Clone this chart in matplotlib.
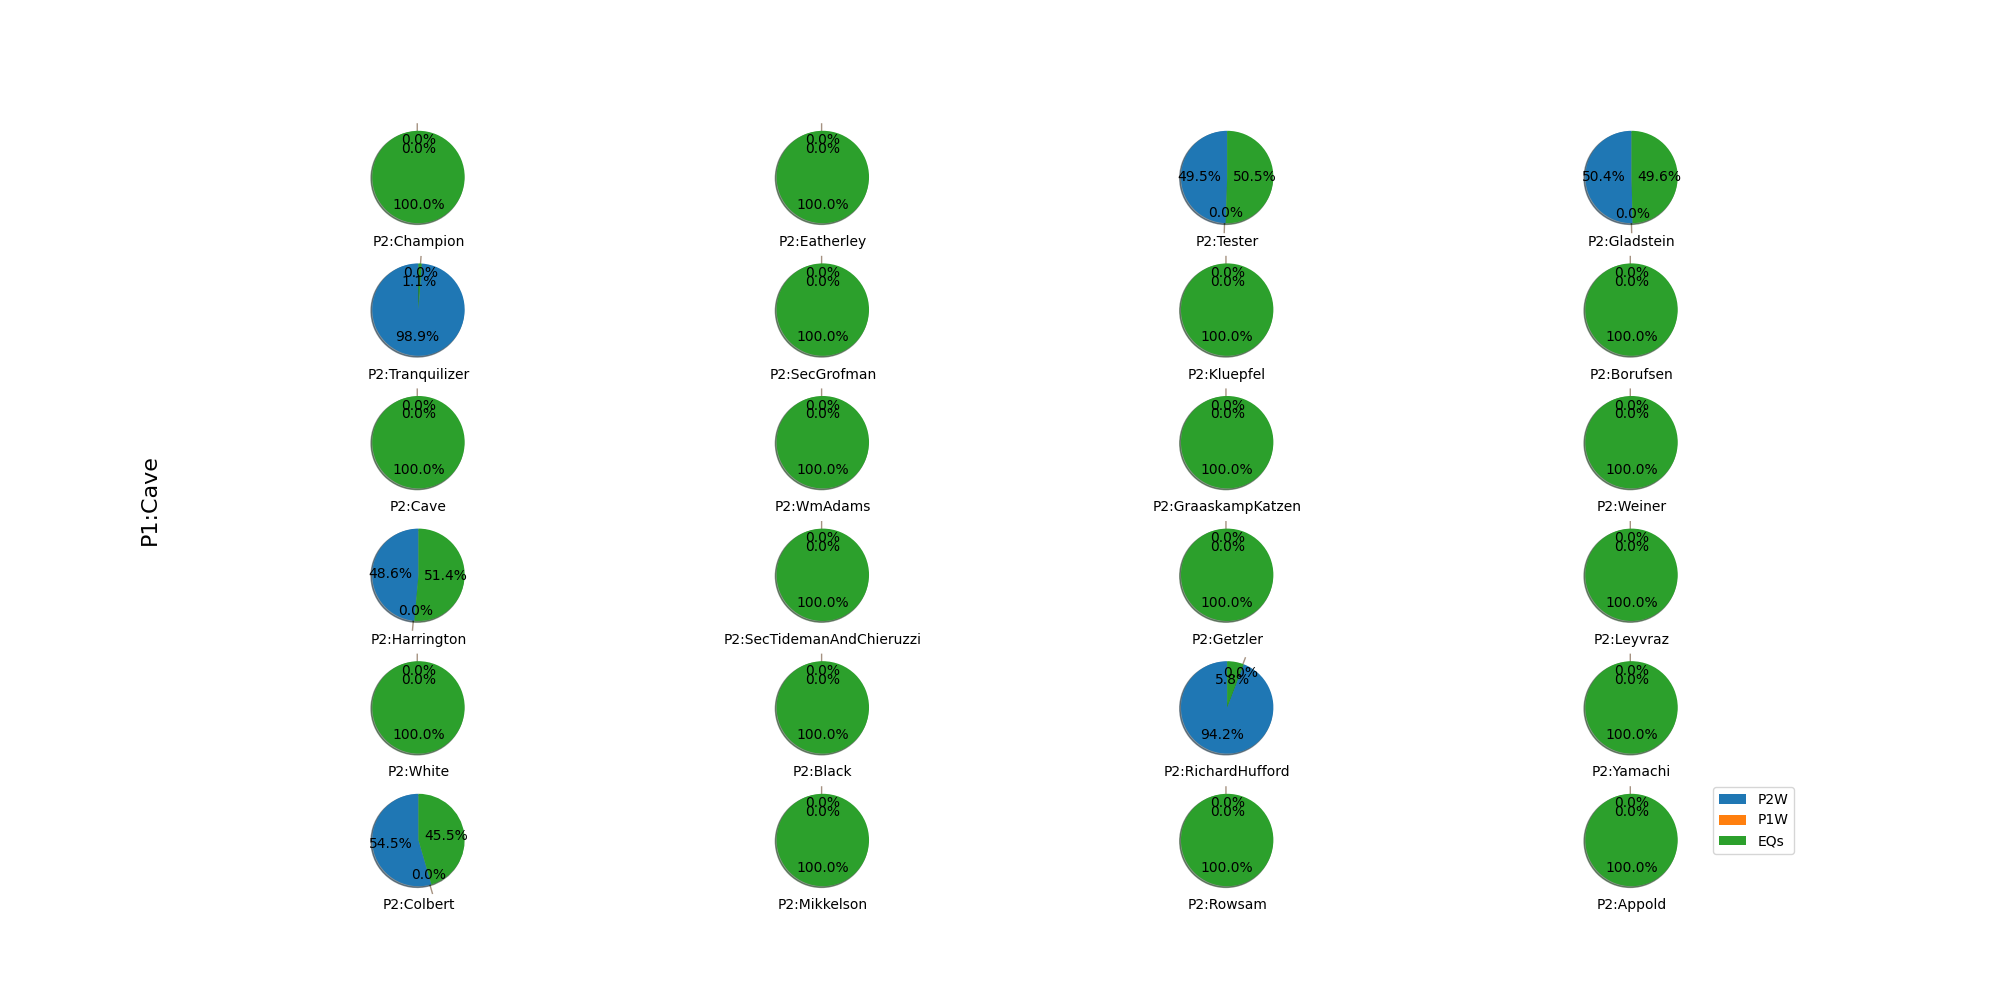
import matplotlib
matplotlib.use("Agg")
import matplotlib.pyplot as plt

# spieler 2 gegner, reihenfolge wie im raster (zeilenweise)
opponents = ["Champion", "Eatherley", "Tester", "Gladstein",
             "Tranquilizer", "SecGrofman", "Kluepfel", "Borufsen",
             "Cave", "WmAdams", "GraaskampKatzen", "Weiner",
             "Harrington", "SecTidemanAndChieruzzi", "Getzler", "Leyvraz",
             "White", "Black", "RichardHufford", "Yamachi",
             "Colbert", "Mikkelson", "Rowsam", "Appold"]

# anteile in prozent
p2w = [0, 0, 49.5, 50.4,
       98.9, 0, 0, 0,
       0, 0, 0, 0,
       48.6, 0, 0, 0,
       0, 0, 94.2, 0,
       54.5, 0, 0, 0]
p1w = [0] * 24
eqs = [100, 100, 50.5, 49.6,
       1.1, 100, 100, 100,
       100, 100, 100, 100,
       51.4, 100, 100, 100,
       100, 100, 5.8, 100,
       45.5, 100, 100, 100]

labels = ["P2W", "P1W", "EQs"]
colors = ["#1f77b4", "#ff7f0e", "#2ca02c"]

fig, axes = plt.subplots(6, 4, figsize=(20, 10), dpi=100)
fig.subplots_adjust(top=0.878, bottom=0.105, hspace=0.2055)

wedges = None
for i, ax in enumerate(axes.flat):
    vals = [p2w[i], p1w[i], eqs[i]]
    wedges, _ = ax.pie(vals, explode=(0, 0.2, 0), colors=colors,
                       autopct="%1.1f%%", shadow=True, startangle=90,
                       radius=1.05)[:2]
    ax.set_xlabel("P2:" + opponents[i], labelpad=2.2)

# legende rechts neben dem letzten kreis
fig.legend(wedges, labels, loc="upper left",
           bbox_to_anchor=(0.8565, 0.213), borderaxespad=0)

fig.text(0.075, 0.5, "P1:Cave", rotation=90, fontsize=16,
         ha="center", va="center")

fig.savefig("out.png")
